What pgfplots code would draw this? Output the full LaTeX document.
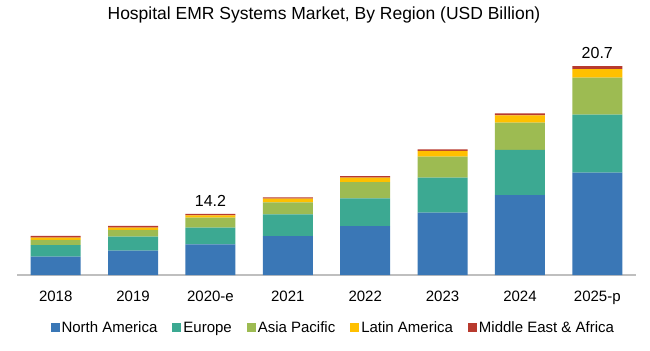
\documentclass[border=0pt]{standalone}
\usepackage{pgfplots}
\pgfplotsset{compat=1.18}
\usepackage{fontspec}
\setmainfont{Liberation Sans}
\definecolor{cNA}{HTML}{3A77B6}
\definecolor{cEU}{HTML}{3CA992}
\definecolor{cAP}{HTML}{9DBB52}
\definecolor{cLA}{HTML}{FFC000}
\definecolor{cME}{HTML}{B83A2E}
\definecolor{axgray}{HTML}{BFBFBF}
\begin{document}
\begin{tikzpicture}
\useasboundingbox (0,0) rectangle (650bp,351bp);
\node[font=\fontsize{17.5bp}{19bp}\selectfont] at (324bp,336bp) {Hospital EMR Systems Market, By Region (USD Billion)};
\begin{axis}[
  at={(17bp,76bp)}, anchor=south west,
  scale only axis, width=619bp, height=222.2bp,
  ybar stacked, bar width=50bp,
  xmin=-0.5, xmax=7.5, ymin=0, ymax=22,
  axis y line=none,
  axis x line*=bottom,
  x axis line style={draw=axgray, line width=1.2pt, -},
  xtick=data,
  xticklabels={2018,2019,2020-e,2021,2022,2023,2024,2025-p},
  xtick style={draw=none},
  xticklabel style={font=\fontsize{15bp}{17bp}\selectfont, yshift=-13bp},
  legend style={at={(0.511,-0.2385)}, anchor=center, draw=none, legend columns=5,
    font=\fontsize{15bp}{17bp}\selectfont, inner sep=0pt,
    /tikz/every odd column/.append style={column sep=0bp},
    /tikz/every even column/.append style={column sep=13bp}},
  legend image code/.code={\fill[#1] (0bp,-4.5bp) rectangle (9bp,4.5bp);},
  legend cell align=left,
  clip=false,
]
\addplot[fill=cNA, draw=none] coordinates {(0,1.81) (1,2.41) (2,3.04) (3,3.86) (4,4.85) (5,6.17) (6,7.92) (7,10.13)};
\addplot[fill=cEU, draw=none] coordinates {(0,1.16) (1,1.39) (2,1.64) (3,2.15) (4,2.74) (5,3.47) (6,4.46) (7,5.74)};
\addplot[fill=cAP, draw=none] coordinates {(0,0.50) (1,0.66) (2,0.99) (3,1.19) (4,1.61) (5,2.08) (6,2.70) (7,3.66)};
\addplot[fill=cLA, draw=none] coordinates {(0,0.23) (1,0.23) (2,0.24) (3,0.36) (4,0.43) (5,0.56) (6,0.73) (7,0.86)};
\addplot[fill=cME, draw=none] coordinates {(0,0.17) (1,0.17) (2,0.13) (3,0.13) (4,0.17) (5,0.17) (6,0.20) (7,0.30)};
\legend{North America, Europe, Asia Pacific, Latin America, Middle East \& Africa}
\node[font=\fontsize{16bp}{18bp}\selectfont, anchor=south, inner sep=0pt] at ([yshift=7bp]axis cs:2,6.04) {14.2};
\node[font=\fontsize{16bp}{18bp}\selectfont, anchor=south, inner sep=0pt] at ([yshift=7bp]axis cs:7,20.69) {20.7};
\end{axis}
\end{tikzpicture}
\end{document}
